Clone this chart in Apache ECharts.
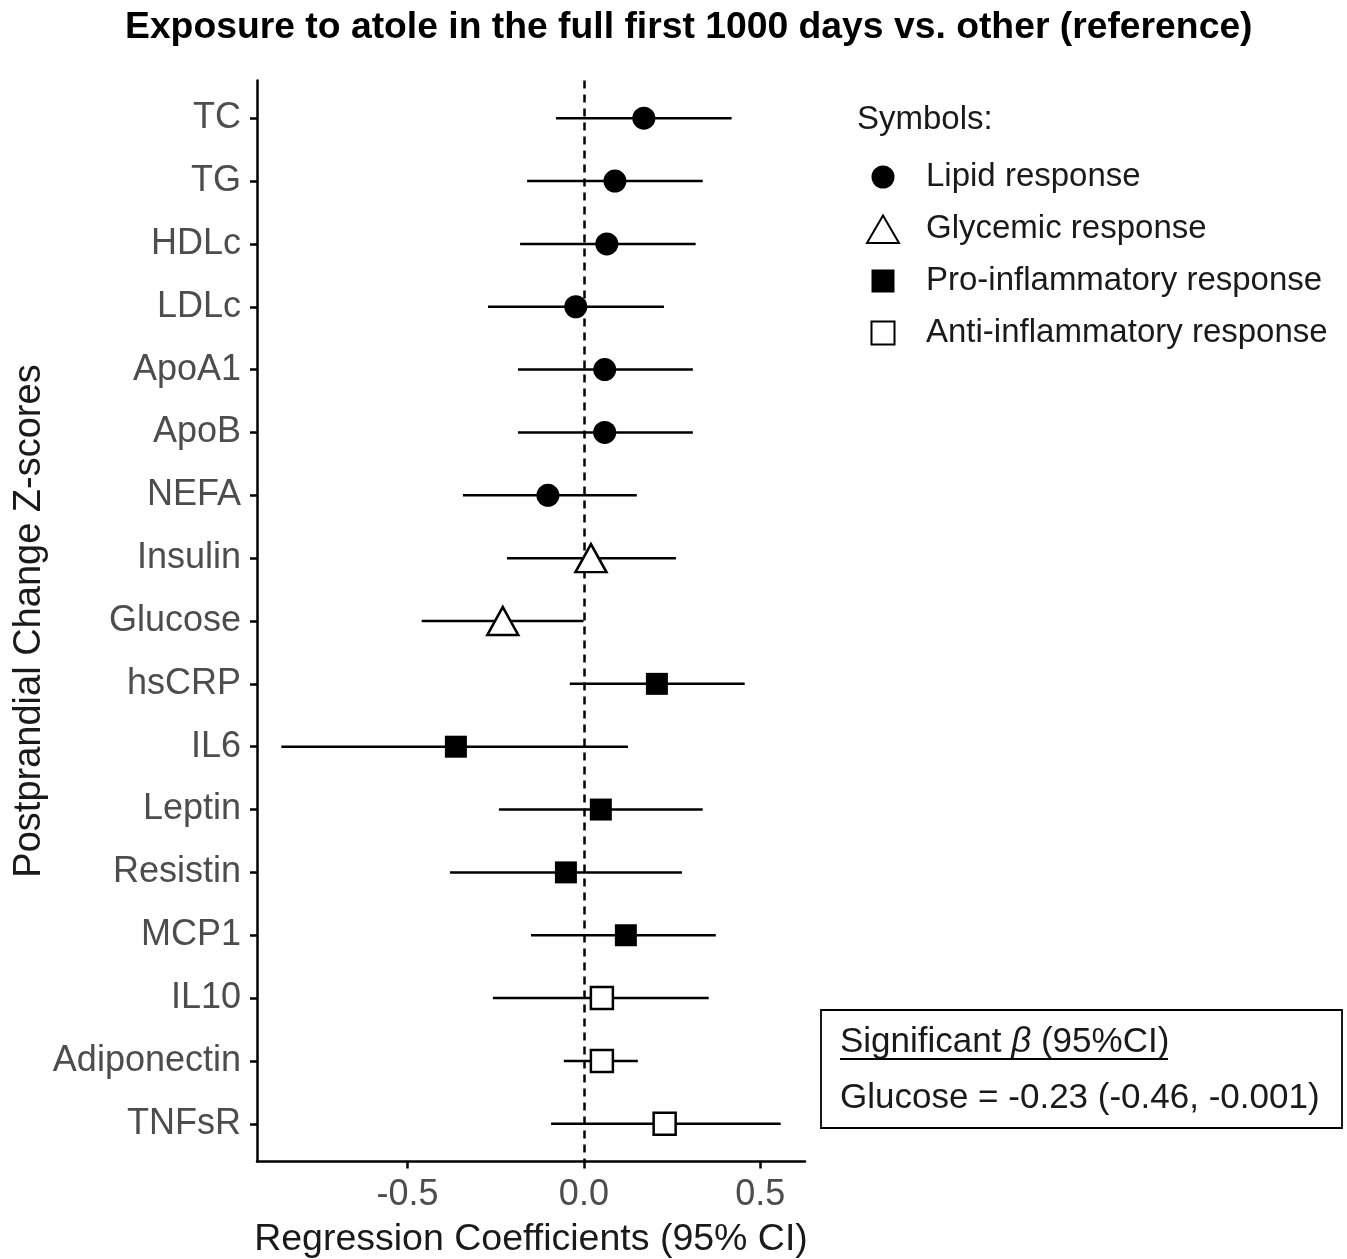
<!DOCTYPE html>
<html>
<head>
<meta charset="utf-8">
<script src="https://cdn.jsdelivr.net/npm/echarts@6/dist/echarts.min.js"></script>
<style>
html,body{margin:0;padding:0;background:#fff;}
#chart{width:1347px;height:1259px;}
</style>
</head>
<body>
<div id="chart"></div>
<script>
// ---- data ----
const categories = ['TC','TG','HDLc','LDLc','ApoA1','ApoB','NEFA','Insulin','Glucose','hsCRP','IL6','Leptin','Resistin','MCP1','IL10','Adiponectin','TNFsR'];
const estimates  = [0.170, 0.088, 0.065, -0.023, 0.059, 0.059, -0.102, 0.020, -0.23, 0.207, -0.363, 0.048, -0.051, 0.119, 0.051, 0.051, 0.229];
const lowerCI    = [-0.079, -0.161, -0.181, -0.272, -0.187, -0.187, -0.343, -0.218, -0.46, -0.040, -0.858, -0.241, -0.380, -0.150, -0.258, -0.057, -0.093];
const upperCI    = [0.419, 0.337, 0.317, 0.227, 0.309, 0.309, 0.150, 0.261, -0.001, 0.456, 0.125, 0.337, 0.278, 0.374, 0.354, 0.153, 0.558];
const groupOf    = ['Lipid','Lipid','Lipid','Lipid','Lipid','Lipid','Lipid','Glycemic','Glycemic','Pro','Pro','Pro','Pro','Pro','Anti','Anti','Anti'];
const groupNames = {Lipid:'Lipid response', Glycemic:'Glycemic response', Pro:'Pro-inflammatory response', Anti:'Anti-inflammatory response'};
const xTicks = [-0.5, 0, 0.5];
const xTickLabels = ['-0.5', '0.0', '0.5'];

// ---- build ----
const FONT = '"Liberation Sans", Arial, sans-serif';
const INK = '#000';
const TXT = '#1a1a1a';
const rowValues = categories.map((c, i) => i + 1);

const barData = categories.map((c, i) => [i + 1, lowerCI[i], upperCI[i]]);
function groupData(g) {
  const out = [];
  categories.forEach((c, i) => { if (groupOf[i] === g) out.push([estimates[i], i + 1]); });
  return out;
}

const markerStyles = {
  Lipid:    {symbol: 'circle',   symbolSize: 23, itemStyle: {color: INK, borderWidth: 0, opacity: 1}},
  Glycemic: {symbol: 'triangle', symbolSize: [31, 28], itemStyle: {color: '#fff', borderColor: INK, borderWidth: 2.5, opacity: 1}},
  Pro:      {symbol: 'rect',     symbolSize: 22, itemStyle: {color: INK, borderWidth: 0, opacity: 1}},
  Anti:     {symbol: 'rect',     symbolSize: 22, itemStyle: {color: '#fff', borderColor: INK, borderWidth: 2.5, opacity: 1}}
};
// legend icons drawn in a 34x30 box (the leading moves fix the bounding box)
const legendIcons = {
  Lipid:    'path://M0,0M34,30M5.5,15a11.5,11.5 0 1,0 23,0a11.5,11.5 0 1,0 -23,0z',
  Glycemic: 'path://M0,0M34,30M17,1.5L33,29L1,29Z',
  Pro:      'path://M0,0M34,30M5.5,3.5h23v23h-23z',
  Anti:     'path://M0,0M34,30M5.5,3.5h23v23h-23z'
};

const scatterSeries = Object.keys(groupNames).map(g => Object.assign({
  type: 'scatter',
  name: groupNames[g],
  data: groupData(g),
  z: 5
}, markerStyles[g]));

const chart = echarts.init(document.getElementById('chart'), null, {renderer: 'canvas'});
chart.setOption({
  backgroundColor: '#fff',
  animation: false,
  textStyle: {fontFamily: FONT},
  title: {
    text: 'Exposure to atole in the full first 1000 days vs. other (reference)',
    left: 125, top: 9, padding: 0,
    textStyle: {fontFamily: FONT, fontWeight: 'bold', fontSize: 37.3, color: '#000'}
  },
  grid: {left: 257, top: 80.5, width: 548, height: 1081, containLabel: false, outerBoundsMode: 'none'},
  xAxis: {
    type: 'value', min: -0.927, max: 0.627,
    name: 'Regression Coefficients (95% CI)',
    nameLocation: 'middle', nameGap: 59,
    nameTextStyle: {fontFamily: FONT, fontSize: 37.5, color: TXT},
    axisLine: {show: true, onZero: false, lineStyle: {color: INK, width: 2.5}},
    axisTick: {show: true, length: 7, lineStyle: {color: INK, width: 2.5}, customValues: xTicks},
    axisLabel: {show: true, fontFamily: FONT, fontSize: 36, color: '#4d4d4d', margin: 16,
      customValues: xTicks,
      formatter: v => xTickLabels[xTicks.findIndex(t => Math.abs(t - v) < 1e-9)]},
    splitLine: {show: false}
  },
  yAxis: {
    type: 'value', min: 0.4, max: 17.6, inverse: true,
    name: 'Postprandial Change Z-scores',
    nameLocation: 'middle', nameGap: 207, nameRotate: 90,
    nameTextStyle: {fontFamily: FONT, fontSize: 38, color: TXT},
    axisLine: {show: true, onZero: false, lineStyle: {color: INK, width: 2.5}},
    axisTick: {show: true, length: 7, lineStyle: {color: INK, width: 2.5}, customValues: rowValues},
    axisLabel: {show: true, fontFamily: FONT, fontSize: 36, color: '#4d4d4d', margin: 16,
      padding: [7, 0, 0, 0],
      customValues: rowValues,
      formatter: v => categories[Math.round(v) - 1]},
    splitLine: {show: false}
  },
  legend: {
    orient: 'vertical', left: 865, top: 159, padding: 0,
    itemWidth: 34, itemHeight: 30, itemGap: 16,
    data: Object.keys(groupNames).map(g => ({name: groupNames[g], icon: legendIcons[g]})),
    formatter: name => '{g|}' + name,
    textStyle: {fontFamily: FONT, fontSize: 33, color: TXT, lineHeight: 36,
      rich: {g: {width: 21}}},
    selectedMode: false
  },
  graphic: [
    {type: 'text', left: 857, top: 103, style: {text: 'Symbols:', fill: TXT, font: '33px ' + FONT}},
    {type: 'rect', shape: {x: 821, y: 1010, width: 521, height: 118}, style: {fill: '#fff', stroke: INK, lineWidth: 1.8}, z: 10},
    {type: 'text', x: 840, y: 1042, z: 11, style: {
      text: '{a|Significant }{b|β}{a| (95%CI)}', textVerticalAlign: 'middle',
      rich: {a: {fontSize: 35, fontFamily: FONT, fill: TXT}, b: {fontSize: 35, fontFamily: FONT, fontStyle: 'italic', fill: TXT}}}},
    {type: 'line', z: 11, shape: {x1: 840, y1: 1059, x2: 1168, y2: 1059}, style: {stroke: INK, lineWidth: 2}},
    {type: 'text', x: 840, y: 1098, z: 11, style: {text: 'Glucose = -0.23 (-0.46, -0.001)', textVerticalAlign: 'middle', fill: TXT, font: '35px ' + FONT}}
  ],
  series: [
    {
      type: 'custom',
      name: 'CI',
      data: barData,
      encode: {x: [1, 2], y: 0},
      z: 2,
      renderItem: function (params, api) {
        const y = api.value(0);
        const p1 = api.coord([api.value(1), y]);
        const p2 = api.coord([api.value(2), y]);
        return {type: 'line', shape: {x1: p1[0], y1: p1[1], x2: p2[0], y2: p2[1]},
          style: {stroke: INK, lineWidth: 2.5}};
      },
      markLine: {
        silent: true, symbol: 'none', label: {show: false},
        lineStyle: {type: [8, 6], color: INK, width: 2.5},
        data: [{xAxis: 0}]
      }
    }
  ].concat(scatterSeries)
});
</script>
</body>
</html>
